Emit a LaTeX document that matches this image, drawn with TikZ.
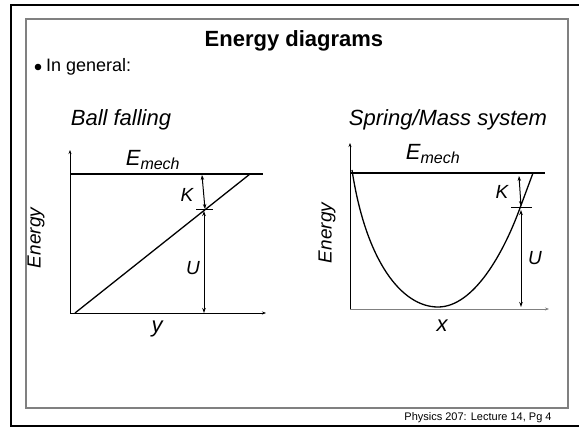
\documentclass[tikz,border=0pt]{standalone}
\usepackage{fontspec}
\setmainfont{Liberation Sans}
\usetikzlibrary{arrows.meta}
\begin{document}
\begin{tikzpicture}[x=1pt,y=-1pt,
  axis/.style={line width=0.8pt,-{Stealth[length=4pt,width=3pt]}},
  curve/.style={line width=1.3pt},
  dim/.style={line width=1pt,{Stealth[length=5pt,width=3.5pt]}-{Stealth[length=5pt,width=3.5pt]}},
  tick/.style={line width=1pt},
  lbl/.style={inner sep=0pt,font=\fontsize{22}{24}\selectfont\itshape},
  small/.style={inner sep=0pt,font=\fontsize{19}{21}\selectfont\itshape}]
\useasboundingbox (0,0) rectangle (579,433);
% frames
\draw[line width=2pt] (11,426) -- (11,5) -- (579,5);
\draw[line width=2pt] (10,426) -- (579,426);
\draw[line width=1.3pt,gray] (26,19) rectangle (568,408);
% texts
\node[inner sep=0pt,font=\fontsize{22}{24}\selectfont\bfseries] (title) at (294,41) {Energy diagrams};
\fill (38,67) circle (3.3);
\node[inner sep=0pt,anchor=west,font=\fontsize{18}{20}\selectfont] (gen) at (46,67) {In general:};
\node[inner sep=0pt,font=\fontsize{22}{24}\selectfont\itshape] (ball) at (121,120) {Ball falling};
\node[inner sep=0pt,font=\fontsize{22}{24}\selectfont\itshape] (spring) at (448,120) {Spring/Mass system};
\node[inner sep=0pt,font=\fontsize{11}{12}\selectfont] (foot) at (478,418) {Physics 207: Lecture 14, Pg 4};
% ---- left graph
\coordinate (Lo) at (70,313);
\coordinate (Ly) at (70,150);
\coordinate (Lx) at (266,313);
\coordinate (Le1) at (70,174);
\coordinate (Le2) at (263,174);
\coordinate (Ld1) at (75,313);
\coordinate (Ld2) at (250,174);
\coordinate (LkT) at (202,175);
\coordinate (LkB) at (205,209);
\coordinate (Lt1) at (196,210);
\coordinate (Lt2) at (213,210);
\coordinate (LuT) at (204,211);
\coordinate (LuB) at (204,313);
\draw[axis] (Lo) -- (Ly);
\draw[axis] (Lo) -- (Lx);
\draw[curve] (Le1) -- (Le2);
\draw[curve] (Ld1) -- (Ld2);
\draw[dim] (LkT) -- (LkB);
\draw[tick] (Lt1) -- (Lt2);
\draw[dim] (LuT) -- (LuB);
\node[lbl] (LE) at (153,160) {E\textsubscript{\fontsize{16}{17}\selectfont mech}};
\node[small] (LK) at (187,195) {K};
\node[small] (LU) at (193,268) {U};
\node[lbl] (Lyl) at (157,329) {y};
\node[small,rotate=90] (Len) at (36,238) {Energy};
% ---- right graph
\coordinate (Ro) at (350,309);
\coordinate (Ry) at (350,143);
\coordinate (Rx) at (549,309);
\coordinate (Re1) at (350,173);
\coordinate (Re2) at (545,173);
\coordinate (Rc1) at (352,170);
\coordinate (Rc2) at (438,307);
\coordinate (Rc3) at (520,208);
\coordinate (Rc4) at (533,173);
\coordinate (RkT) at (519,176);
\coordinate (RkB) at (521,206);
\coordinate (Rt1) at (511,208);
\coordinate (Rt2) at (532,208);
\coordinate (RuT) at (521,210);
\coordinate (RuB) at (521,307);
\draw[axis] (Ro) -- (Ry);
\draw[axis,gray] (Ro) -- (Rx);
\draw[curve] (Rc1) .. controls (366,262) and (402,307) .. (Rc2)
  .. controls (474,307) and (504,252) .. (Rc3) -- (Rc4);
\draw[curve] (Re1) -- (Re2);
\draw[dim] (RkT) -- (RkB);
\draw[tick] (Rt1) -- (Rt2);
\draw[dim] (RuT) -- (RuB);
\node[lbl] (RE) at (433,154) {E\textsubscript{\fontsize{16}{17}\selectfont mech}};
\node[small] (RK) at (502,192) {K};
\node[small] (RU) at (535,258) {U};
\node[lbl] (Rxl) at (442,326) {x};
\node[small,rotate=90] (Ren) at (327,233) {Energy};
\end{tikzpicture}
\end{document}
